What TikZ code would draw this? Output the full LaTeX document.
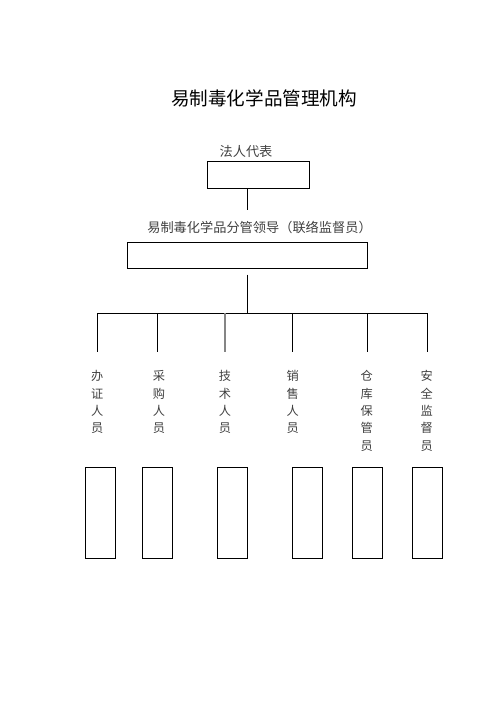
\documentclass[tikz,border=0pt]{standalone}
\usepackage{fontspec}
\usepackage{xcolor}
\usepackage{tikz}
\usetikzlibrary{calc,positioning}
\newfontfamily\cjk{Noto Sans CJK SC}
\definecolor{ink}{HTML}{000000}
\definecolor{txt}{HTML}{404040}
\definecolor{muted}{HTML}{858585}
\tikzset{
  solidline/.style={draw=ink, line width=1pt},
  greyline/.style={draw=muted, line width=2pt},
  box/.style={draw=ink, line width=1pt, inner sep=0pt},
  slot/.style={box, minimum width=30pt, minimum height=91pt},
  lab/.style={text=txt, inner sep=0pt, font=\cjk\fontsize{13.2}{15}\selectfont},
  vlab/.style={text=txt, inner sep=0pt, anchor=north, align=center, font=\cjk\fontsize{12.2}{17.3}\selectfont},
  ttl/.style={text=ink, inner sep=0pt, font=\cjk\fontsize{18.6}{22}\selectfont},
}

\begin{document}
\begin{tikzpicture}[x=1pt,y=-1pt]
  \useasboundingbox (0,0) rectangle (496,702);

  \node[ttl] (title) at (264,98) {易制毒化学品管理机构};

  % top two levels
  \node[lab] (rep) at (246,151) {法人代表};
  \node[box, minimum width=102pt, minimum height=27pt] (repbox) at (258.5,174.8) {};
  \node[lab] (lead) at (259.5,227) {易制毒化学品分管领导（联络监督员）};
  \node[box, minimum width=240pt, minimum height=25.6pt] (leadbox) at (247.5,255.5) {};

  \coordinate (repend) at (247.3,210);
  \coordinate (stemtop) at (247.3,274.5);
  \coordinate (stembot) at (247.3,313.3);
  \draw[solidline] (repbox.south -| repend) -- (repend);
  \draw[solidline] (stemtop) -- (stembot);

  % drops to the six posts
  \coordinate (d1) at (97.3,313.3);  \coordinate (e1) at (97.3,352);
  \coordinate (d2) at (157.3,313.3); \coordinate (e2) at (157.3,352);
  \coordinate (d3) at (224.7,313.3); \coordinate (e3) at (224.7,352);
  \coordinate (d4) at (292.7,313.3); \coordinate (e4) at (292.7,352);
  \coordinate (d5) at (367.3,313.3); \coordinate (e5) at (367.3,352);
  \coordinate (d6) at (427.7,313.3); \coordinate (e6) at (427.7,352);
  \draw[solidline] (d1) -- (d6);
  \draw[solidline] (d1) -- (e1);
  \draw[solidline] (d2) -- (e2);
  \draw[greyline] (d3) -- (e3);
  \draw[solidline] (d4) -- (e4);
  \draw[solidline] (d5) -- (e5);
  \draw[solidline] (d6) -- (e6);

  \node[vlab] (cert) at (97.3,370.5) {办\\证\\人\\员};
  \node[vlab] (buy) at (159,370.5) {采\\购\\人\\员};
  \node[vlab] (tech) at (225,370.5) {技\\术\\人\\员};
  \node[vlab] (sale) at (292.7,370.5) {销\\售\\人\\员};
  \node[vlab] (store) at (366.7,370.5) {仓\\库\\保\\管\\员};
  \node[vlab] (safe) at (426.7,370.5) {安\\全\\监\\督\\员};

  \node[slot] (certbox) at (100.5,512.8) {};
  \node[slot] (buybox) at (157.3,512.8) {};
  \node[slot] (techbox) at (232.3,512.8) {};
  \node[slot] (salebox) at (307.3,512.8) {};
  \node[slot] (storebox) at (367.3,512.8) {};
  \node[slot] (safebox) at (427.3,512.8) {};
\end{tikzpicture}
\end{document}
